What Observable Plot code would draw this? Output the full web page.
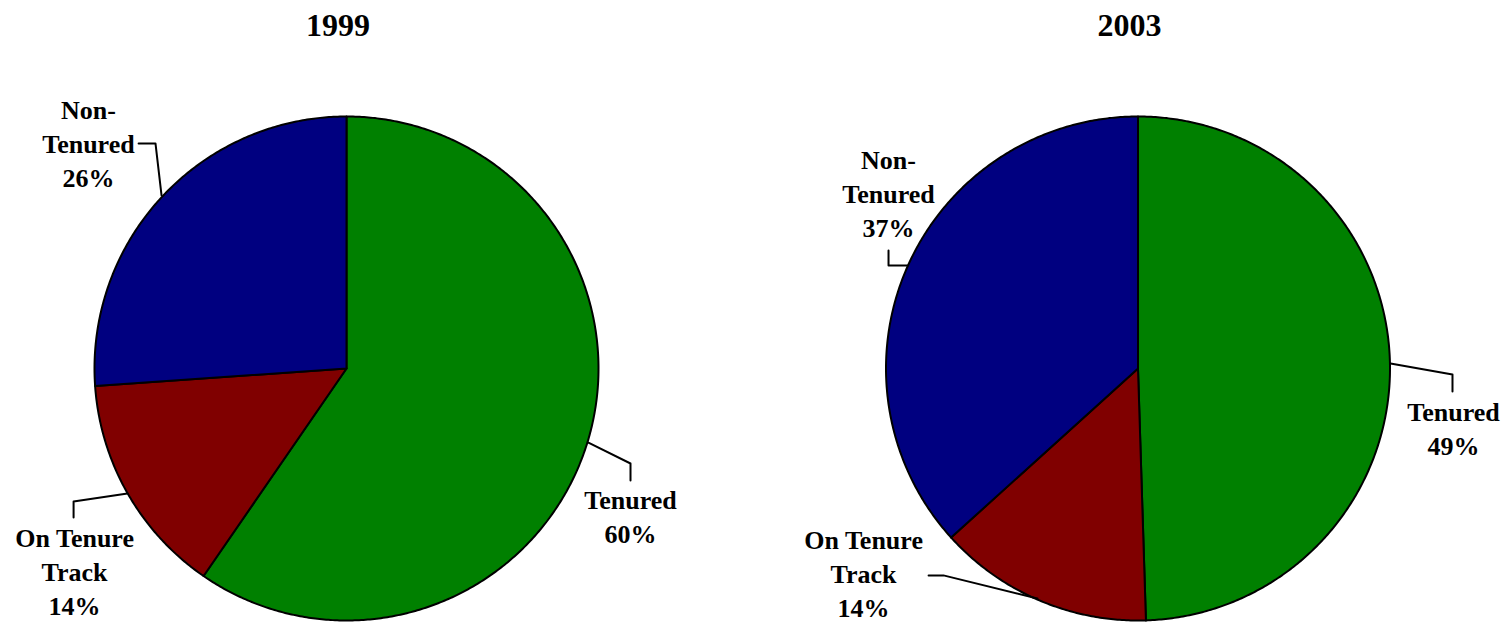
<!DOCTYPE html>
<html><head><meta charset="utf-8">
<script src="https://cdn.jsdelivr.net/npm/d3@7"></script>
<script src="https://cdn.jsdelivr.net/npm/@observablehq/plot@0.6"></script>
<style>html,body{margin:0;padding:0;background:#fff}#chart svg{display:block}</style>
</head><body><div id="chart"></div>
<script>
// ---- data ----
const years = ["1999", "2003"];
const categories = ["Tenured", "On Tenure Track", "Non-Tenured"];
const labelNames = ["Tenured", "On Tenure\nTrack", "Non-\nTenured"];
const values1999 = [59.6, 14.3, 26.1];
const values2003 = [49.5, 13.8, 36.7];
const pctLabels1999 = ["60%", "14%", "26%"];
const pctLabels2003 = ["49%", "14%", "37%"];
const colors = ["#008000", "#800000", "#000080"];

// ---- layout (units: pie radius = 1, origin = centre of first pie) ----
const W = 1507, H = 623, R = 252, CY = 368;
const pieCentersPx = [346, 1137.5];
const offsets = pieCentersPx.map(c => (c - pieCentersPx[0]) / R);
const xDomain = [(0 - pieCentersPx[0]) / R, (W - pieCentersPx[0]) / R];
const yDomain = [(CY - H) / R, CY / R];

// label anchors (first-line baseline, centre) relative to each pie centre
const labelPos = [
  [[1.127, -0.563], [-1.079, -0.714], [-1.024, 0.984]],
  [[1.252, -0.214], [-1.089, -0.722], [-0.990, 0.786]]
];
// leader lines relative to each pie centre
const leaderPos = [
  [
    [[1.127, -0.444], [1.127, -0.377], [0.960, -0.294]],
    [[-1.083, -0.591], [-1.083, -0.528], [-0.869, -0.496]],
    [[-0.825, 0.893], [-0.758, 0.893], [-0.734, 0.687]]
  ],
  [
    [[1.248, -0.091], [1.248, -0.024], [1.002, 0.020]],
    [[-0.831, -0.821], [-0.772, -0.821], [-0.399, -0.913]],
    [[-0.990, 0.468], [-0.990, 0.409], [-0.915, 0.409]]
  ]
];
const titlePos = [-0.034, 1.321];

// ---- build mark data ----
const allValues = [values1999, values2003];
const allPcts = [pctLabels1999, pctLabels2003];
const pie = d3.pie().sort(null).value(d => d);
const slices = [];
const labels = [];
const leaders = [];
years.forEach((yr, i) => {
  const ox = offsets[i];
  pie(allValues[i]).forEach((a, j) => {
    const id = yr + "-" + j, cat = categories[j];
    const n = Math.max(2, Math.ceil((a.endAngle - a.startAngle) / (Math.PI / 360)));
    slices.push({id, cat, x: ox, y: 0});
    for (let k = 0; k <= n; k++) {
      const t = a.startAngle + (a.endAngle - a.startAngle) * k / n;
      slices.push({id, cat, x: ox + Math.sin(t), y: Math.cos(t)});
    }
    slices.push({id, cat, x: ox, y: 0});
    labels.push({x: ox + labelPos[i][j][0], y: labelPos[i][j][1], text: labelNames[j] + "\n" + allPcts[i][j]});
    leaderPos[i][j].forEach(p => leaders.push({id, x: ox + p[0], y: p[1]}));
  });
});
const titles = years.map((yr, i) => ({x: offsets[i] + titlePos[0], y: titlePos[1], text: yr}));

const font = "'Liberation Serif', 'Times New Roman', serif";
const chart = Plot.plot({
  width: W, height: H,
  marginTop: 0, marginRight: 0, marginBottom: 0, marginLeft: 0,
  x: {domain: xDomain, axis: null},
  y: {domain: yDomain, axis: null},
  color: {domain: categories, range: colors},
  style: {background: "#fff", overflow: "visible"},
  marks: [
    Plot.line(slices, {x: "x", y: "y", z: "id", fill: "cat", stroke: "black", strokeWidth: 2, strokeLinejoin: "round"}),
    Plot.line(leaders, {x: "x", y: "y", z: "id", stroke: "black", strokeWidth: 2}),
    Plot.text(labels, {x: "x", y: "y", text: "text", fontSize: 26, fontWeight: "bold", fontFamily: font,
      lineHeight: 34 / 26, lineAnchor: "top", dy: -25.5, textAnchor: "middle", fill: "black"}),
    Plot.text(titles, {x: "x", y: "y", text: "text", fontSize: 32, fontWeight: "bold", fontFamily: font,
      lineAnchor: "top", dy: -0.71 * 32, textAnchor: "middle", fill: "black"})
  ]
});
document.getElementById("chart").appendChild(chart);
</script>
</body></html>
